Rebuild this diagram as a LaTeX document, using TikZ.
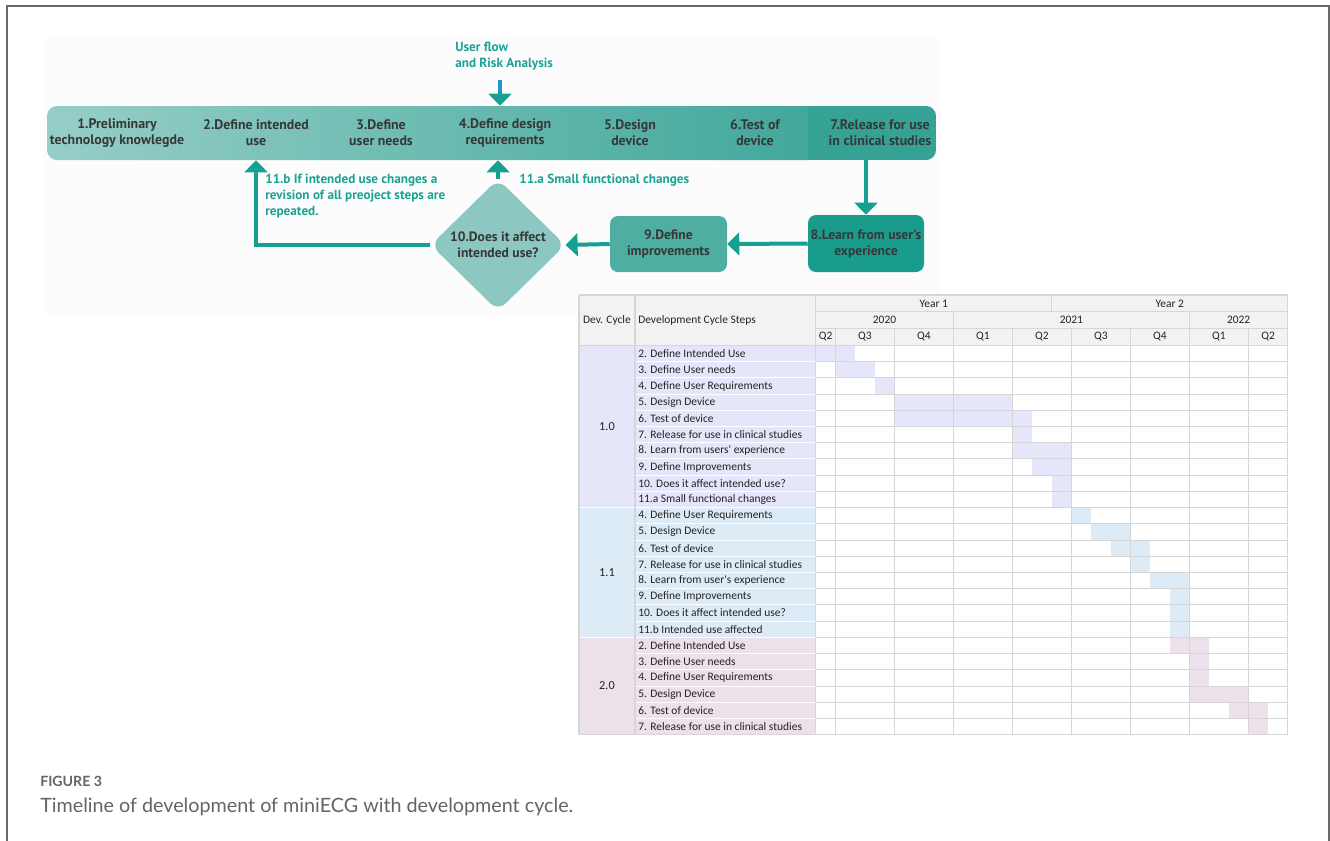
\documentclass[tikz,border=0pt]{standalone}
\usepackage{fontspec}
\setmainfont{PT Sans}
\newfontfamily\flowfont{PT Sans}
\newfontfamily\tabfont{Carlito}
\newfontfamily\capfont{Lato}
\usetikzlibrary{arrows.meta,shapes.geometric,backgrounds,calc}

\definecolor{tealA}{RGB}{22,160,146}
\definecolor{tealTxt}{RGB}{26,163,150}
\definecolor{shaftBlue}{RGB}{32,150,214}
\definecolor{txtDark}{RGB}{55,55,55}
\definecolor{bandL}{RGB}{150,206,199}
\definecolor{bandR}{RGB}{66,168,156}
\definecolor{bandE}{RGB}{54,162,150}
\definecolor{diaFill}{RGB}{140,200,193}
\definecolor{boxNine}{RGB}{78,174,162}
\definecolor{boxEight}{RGB}{26,156,141}
\definecolor{hdrGray}{RGB}{242,242,242}
\definecolor{gridGray}{RGB}{214,214,214}
\definecolor{lav}{RGB}{230,230,250}
\definecolor{blu}{RGB}{221,235,247}
\definecolor{pnk}{RGB}{236,224,234}
\definecolor{tabTxt}{RGB}{35,35,35}
\definecolor{capGray}{RGB}{100,100,100}
\definecolor{frameGray}{RGB}{105,105,105}
\definecolor{paneGray}{RGB}{252,252,252}

\tikzset{
  stepnode/.style={font=\flowfont\bfseries\fontsize{10.4}{12}\selectfont, text=txtDark,
    align=center, minimum height=40.5pt, inner sep=0pt},
  boxnode/.style={font=\flowfont\bfseries\fontsize{10.2}{12}\selectfont, text=txtDark,
    align=center, inner sep=0pt, rounded corners=6pt},
  flowlabel/.style={font=\flowfont\bfseries\fontsize{9.9}{12}\selectfont, text=tealTxt,
    align=left, inner sep=0pt},
  flowarrow/.style={draw=tealA, line width=3pt, -{Triangle[width=17pt,length=9pt]}},
  tabtext/.style={font=\tabfont\fontsize{8.6}{9}\selectfont, text=tabTxt, inner sep=0pt},
  gridline/.style={draw=gridGray, line width=0.8pt},
  cellline/.style={draw=white, line width=0.8pt}
}

\begin{document}
\begin{tikzpicture}[x=0.75pt,y=-0.75pt]
\useasboundingbox (0,0) rectangle (1330,840);

% outer frame
\draw[frameGray, line width=1.2pt] (7,850) -- (7,6) -- (1329,6) -- (1329,850);

% ---------- process flow ----------
\node[stepnode] (s1) at (117,133) {1.Preliminary\\technology knowlegde};
\node[stepnode] (s2) at (256,133) {2.Define intended\\use};
\node[stepnode] (s3) at (381,133) {3.Define\\user needs};
\node[stepnode] (s4) at (505,133) {4.Define design\\requirements};
\node[stepnode] (s5) at (630,133) {5.Design\\device};
\node[stepnode] (s6) at (755,133) {6.Test of\\device};
\node[stepnode] (s7) at (880,133) {7.Release for use\\in clinical studies};

\begin{scope}[on background layer]
  \fill[paneGray] (43,38) rectangle (940,314);
  \begin{scope}
    \clip[rounded corners=7.5pt] (47,106) rectangle (936,160);
    \shade[left color=bandL, right color=bandR] (47,106) rectangle (808,160);
    \fill[bandE] (808,106) rectangle (936,160);
  \end{scope}
\end{scope}

\node[diamond, fill=diaFill, minimum width=101pt, minimum height=99pt,
      inner sep=0pt, rounded corners=8pt] (d10) at (498,245) {};
\node[boxnode] (t10) at (498,245) {10.Does it affect\\intended use?};

\node[boxnode, fill=boxNine, minimum width=87.75pt, minimum height=42pt] (b9)
  at (668.5,244) {9.Define\\improvements};
\node[boxnode, fill=boxEight, minimum width=87pt, minimum height=42.75pt] (b8)
  at (866,243.5) {8.Learn from user's\\experience};

\node[flowlabel, anchor=north west] (uf) at (455,42) {User flow\\and Risk Analysis};
\coordinate (ufa) at (500,80);

\node[flowlabel, anchor=west] (l11a) at (519,180) {11.a Small functional changes};
\node[flowlabel, anchor=north west] (l11b) at (265,174)
  {11.b If intended use changes a\\revision of all preoject steps are\\repeated.};

% connectors
\draw[flowarrow] (ufa) -- (ufa |- s4.north);
\draw[draw=shaftBlue, line width=3pt] (ufa) -- ++(0,12);
\draw[flowarrow] (b8.north |- s7.south) -- (b8.north);
\draw[flowarrow] (b8.west) -- (b9.east);
\draw[flowarrow] (b9.west) -- (d10.east);
\draw[flowarrow] (d10.north) -- (d10.north |- s4.south);
\draw[flowarrow] (d10.west) -| (s2.south);

% ---------- development timeline table ----------
% x: cycle column 579, steps column 635, months from 815.7 (Jun 2020), 19.67 each
% y: header rows 295/311.8/328.6, data rows from 345.4, 16.22 each
\fill[hdrGray] (579,295) rectangle (1287.8,345.4);
\fill[lav] (579,{345.4}) rectangle (815.7,{345.4+10*16.22});
\fill[blu] (579,{345.4+10*16.22}) rectangle (815.7,{345.4+18*16.22});
\fill[pnk] (579,{345.4+18*16.22}) rectangle (815.7,{345.4+24*16.22});

% gantt bars: row / first month / month after last / colour
\foreach \r/\a/\b/\c in {0/0/2/lav, 1/1/3/lav, 2/3/4/lav, 3/4/10/lav, 4/4/11/lav,
    5/10/11/lav, 6/10/13/lav, 7/11/13/lav, 8/12/13/lav, 9/12/13/lav,
    10/13/14/blu, 11/14/16/blu, 12/15/17/blu, 13/16/17/blu, 14/17/19/blu,
    15/18/19/blu, 16/18/19/blu, 17/18/19/blu,
    18/18/20/pnk, 19/19/20/pnk, 20/19/20/pnk, 21/19/22/pnk, 22/21/23/pnk, 23/22/23/pnk}
  \fill[\c] ({815.7+\a*19.67},{345.4+\r*16.22}) rectangle ({815.7+\b*19.67},{345.4+(\r+1)*16.22});

% row separators in the steps column
\foreach \r in {1,...,23}
  \draw[cellline] (635,{345.4+\r*16.22}) -- (815.7,{345.4+\r*16.22});
\draw[cellline] (579,{345.4+10*16.22}) -- (635,{345.4+10*16.22});
\draw[cellline] (579,{345.4+18*16.22}) -- (635,{345.4+18*16.22});

% grid of the time axis
\foreach \r in {0,...,24}
  \draw[gridline] (815.7,{345.4+\r*16.22}) -- (1287.8,{345.4+\r*16.22});
\draw[gridline] (815.7,311.8) -- (1287.8,311.8);
\draw[gridline] (815.7,328.6) -- (1287.8,328.6);
\draw[gridline] (579,295) -- (1287.8,295);
\draw[gridline] (579,345.4) -- (815.7,345.4);
\draw[gridline] (579,{345.4+24*16.22}) -- (815.7,{345.4+24*16.22});
\foreach \m in {1,4,10,13,16,22}
  \draw[gridline] ({815.7+\m*19.67},328.6) -- ({815.7+\m*19.67},{345.4+24*16.22});
\foreach \m in {7,19}
  \draw[gridline] ({815.7+\m*19.67},311.8) -- ({815.7+\m*19.67},{345.4+24*16.22});
\draw[gridline] ({815.7+12*19.67},295) -- ({815.7+12*19.67},311.8);
\foreach \x in {579,635,815.7,1287.8}
  \draw[gridline] (\x,295) -- (\x,{345.4+24*16.22});

% header texts
\node[tabtext] (hdc) at (607,320) {Dev. Cycle};
\node[tabtext, anchor=west] (hst) at (638,320) {Development Cycle Steps};
\node[tabtext] (hy1) at ({815.7+6*19.67},303.4) {Year 1};
\node[tabtext] (hy2) at ({815.7+18*19.67},303.4) {Year 2};
\node[tabtext] (h20) at ({815.7+3.5*19.67},320.2) {2020};
\node[tabtext] (h21) at ({815.7+13*19.67},320.2) {2021};
\node[tabtext] (h22) at ({815.7+21.5*19.67},320.2) {2022};
\foreach \q/\c [count=\i] in {Q2/0.5, Q3/2.5, Q4/5.5, Q1/8.5, Q2/11.5, Q3/14.5, Q4/17.5, Q1/20.5, Q2/23}
  \node[tabtext] (hq\i) at ({815.7+\c*19.67},337) {\q};

% cycle labels
\node[tabtext, font=\tabfont\fontsize{9.2}{10}\selectfont] (c10) at (607,{345.4+5*16.22}) {1.0};
\node[tabtext, font=\tabfont\fontsize{9.2}{10}\selectfont] (c11) at (607,{345.4+14*16.22}) {1.1};
\node[tabtext, font=\tabfont\fontsize{9.2}{10}\selectfont] (c20) at (607,{345.4+21*16.22}) {2.0};

% step texts
\foreach \r/\t in {0/{2. Define Intended Use}, 1/{3. Define User needs},
    2/{4. Define User Requirements}, 3/{5. Design Device}, 4/{6. Test of device},
    5/{7. Release for use in clinical studies}, 6/{8. Learn from users' experience},
    7/{9. Define Improvements}, 8/{10. Does it affect intended use?},
    9/{11.a Small functional changes},
    10/{4. Define User Requirements}, 11/{5. Design Device}, 12/{6. Test of device},
    13/{7. Release for use in clinical studies}, 14/{8. Learn from user's experience},
    15/{9. Define Improvements}, 16/{10. Does it affect intended use?},
    17/{11.b Intended use affected},
    18/{2. Define Intended Use}, 19/{3. Define User needs},
    20/{4. Define User Requirements}, 21/{5. Design Device}, 22/{6. Test of device},
    23/{7. Release for use in clinical studies}}
  \node[tabtext, anchor=west] (st\r) at (638,{345.4+(\r+0.5)*16.22}) {\t};

% ---------- caption ----------
\node[anchor=base west, inner sep=0pt, font=\capfont\bfseries\fontsize{10.6}{12}\selectfont,
      text=capGray] (fig) at (40,786) {FIGURE 3};
\node[anchor=base west, inner sep=0pt, font=\capfont\fontsize{14.8}{17}\selectfont,
      text=capGray] (cap) at (40,812) {Timeline of development of miniECG with development cycle.};
\end{tikzpicture}
\end{document}
